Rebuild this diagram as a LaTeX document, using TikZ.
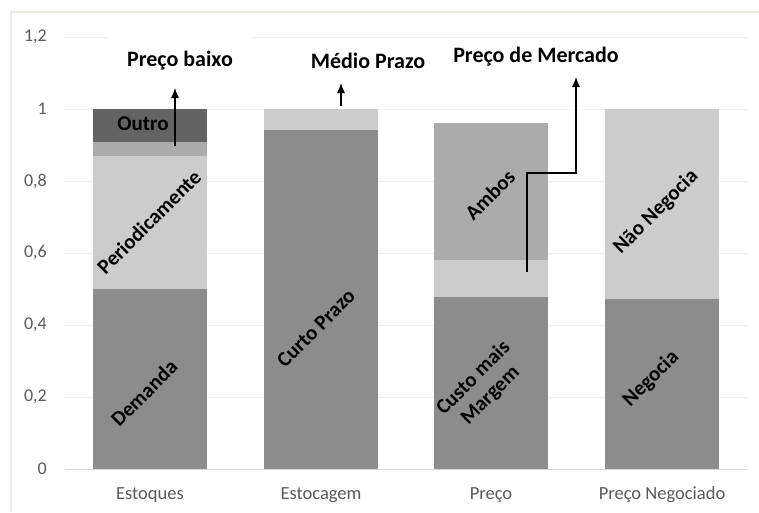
\documentclass[tikz,border=0pt]{standalone}
\usepackage{fontspec}
\setsansfont{Carlito}
\usetikzlibrary{positioning}
\usetikzlibrary{arrows.meta}
\definecolor{bar-dark}{HTML}{636363}
\definecolor{bar-main}{HTML}{8C8C8C}
\definecolor{bar-mid}{HTML}{ABABAB}
\definecolor{bar-light}{HTML}{CCCCCC}
\definecolor{axis-text}{HTML}{595959}
\definecolor{grid-line}{HTML}{EFEFEF}
\definecolor{axis-line}{HTML}{D9D9D9}
\definecolor{frame-line}{HTML}{EEEBE2}
\tikzset{
  seg-label/.style={font=\sffamily\bfseries\fontsize{21}{24}\selectfont, rotate=45, align=center, inner sep=0pt},
  top-label/.style={font=\sffamily\bfseries\fontsize{22}{24}\selectfont, fill=white, minimum width=145pt, minimum height=56pt},
  tick-label/.style={font=\sffamily\fontsize{18}{20}\selectfont, text=axis-text, anchor=east, inner sep=0pt},
  cat-label/.style={font=\sffamily\fontsize{18.5}{20}\selectfont, text=axis-text},
  pointer/.style={line width=1.2pt, -{Latex[length=10pt,width=8pt]}},
}
% one stacked piece of a bar: centre, from value, to value, colour
\newcommand{\barsegment}[4]{%
\fill[#4] ({#1-57},{469-360*#2}) rectangle ({#1+57},{469-360*#3});
}

\begin{document}
\begin{tikzpicture}[x=1pt, y=-1pt]
\useasboundingbox (0,0) rectangle (759,512);
% chart frame
\draw[frame-line, line width=1.2pt] (11,512) -- (11,12) -- (759,12);
% grid and y ticks
\foreach \v/\t in {0.2/{0,2},0.4/{0,4},0.6/{0,6},0.8/{0,8},1/{1},1.2/{1,2}} {
  \draw[grid-line, line width=1pt] (65,{469-360*\v}) -- (748,{469-360*\v});
  \node[tick-label] (tick-\v) at (47,{469-360*\v}) {\t};
}
\draw[axis-line, line width=1pt] (65,469) -- (748,469);
\node[tick-label] (tick-0) at (47,469) {0};

% bars
\barsegment{150}{0}{0.5}{bar-main}
\barsegment{150}{0.5}{0.870}{bar-light}
\barsegment{150}{0.870}{0.907}{bar-mid}
\barsegment{150}{0.907}{1}{bar-dark}
\barsegment{321}{0}{0.943}{bar-main}
\barsegment{321}{0.943}{1}{bar-light}
\barsegment{491}{0}{0.479}{bar-main}
\barsegment{491}{0.479}{0.580}{bar-light}
\barsegment{491}{0.580}{0.962}{bar-mid}
\barsegment{662}{0}{0.471}{bar-main}
\barsegment{662}{0.471}{1}{bar-light}

% labels in the bars
\node[seg-label] (demanda) at (144,393) {Demanda};
\node[seg-label] (periodic) at (149,222) {Periodicamente};
\node[seg-label, rotate=-45] (outro) at (143,124) {Outro};
\node[seg-label] (curto) at (316,328) {Curto Prazo};
\node[seg-label] (custo) at (482,387) {Custo mais\\Margem};
\node[seg-label] (ambos) at (490,195) {Ambos};
\node[seg-label] (negocia) at (651,379) {Negocia};
\node[seg-label] (nao-negocia) at (656,212) {Não Negocia};

% categories
\node[cat-label] (estoques) at (150,495) {Estoques};
\node[cat-label] (estocagem) at (321,495) {Estocagem};
\node[cat-label] (preco) at (491,495) {Preço};
\node[cat-label] (preco-neg) at (662,495) {Preço Negociado};

% callouts
\node[top-label] (preco-baixo) at (180,61) {Preço baixo};
\node[top-label, fill=none] (medio) at (368,61) {Médio Prazo};
\node[top-label, fill=none] (mercado) at (536,57) {Preço de Mercado};
\coordinate (baixo-from) at (175,146);
\coordinate (baixo-tip) at (175,88);
\coordinate (medio-from) at (341,106);
\coordinate (medio-tip) at (341,83);
\coordinate (mercado-from) at (527,272);
\coordinate (mercado-tip) at (576,77);
\draw[pointer] (baixo-from) -- (baixo-tip);
\draw[pointer] (medio-from) -- (medio-tip);
\draw[pointer] (mercado-from) -- (527,173) -| (mercado-tip);
\end{tikzpicture}
\end{document}
